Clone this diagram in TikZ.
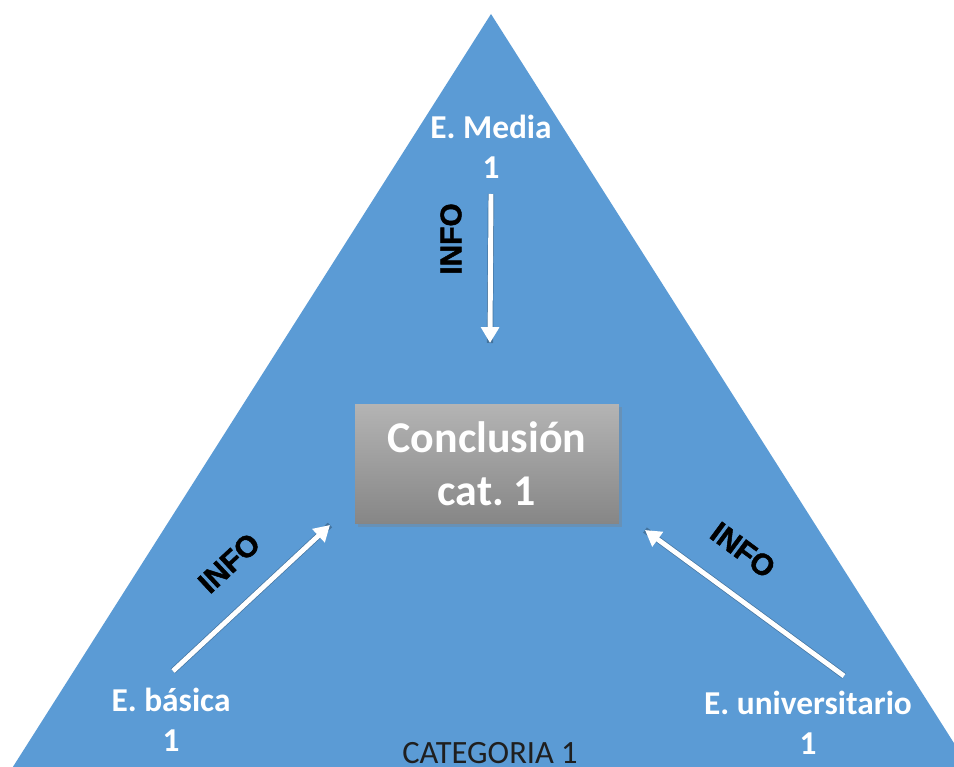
\documentclass[tikz,border=0pt]{standalone}
\usepackage{fontspec}
\setmainfont{Carlito}
\newfontfamily\infofont[FakeBold=1.6]{Liberation Sans}
\usetikzlibrary{arrows.meta,shadows,positioning}

\definecolor{triblue}{RGB}{91,155,213}
\definecolor{boxtop}{RGB}{180,180,180}
\definecolor{boxbot}{RGB}{134,134,134}

\begin{document}
\frenchspacing
\begin{tikzpicture}[x=0.02cm,y=-0.02cm,>={Triangle[length=9pt,width=10pt]}]

  \tikzstyle{lvl}=[text=white,font=\bfseries\fontsize{19}{23}\selectfont,align=center];
  \tikzstyle{info}=[font=\infofont\bfseries\fontsize{17}{20}\selectfont,inner sep=0pt];
  \tikzstyle{flow}=[->,draw=white,line width=2.8pt];
  \tikzstyle{flowshadow}=[draw=black,opacity=0.25,line width=3.6pt,shift={(2,3)}];
  \tikzstyle{conc}=[rectangle,minimum width=5.28cm,minimum height=2.4cm,
    top color=boxtop,bottom color=boxbot,text=white,align=center,
    font=\bfseries\fontsize{25}{30}\selectfont,
    drop shadow={opacity=0.35,shadow xshift=1.5pt,shadow yshift=-1.5pt}];

  \useasboundingbox (0,0) rectangle (954,767);
  \clip (0,0) rectangle (954,767);

  %% triangle
  \fill[triblue] (491,14) -- (-80.5,914) -- (1062.5,914) -- cycle;

  \node [conc] (conc) at (487,464) {Conclusión\\cat. 1};

  \node [lvl] (media) at (491,147) {E. Media\\1};
  \node [lvl] (basica) at (171,720) {E. básica\\1};
  \node [lvl] (univ) at (808,723) {E. universitario\\1};

  \node [text=black!88,font=\fontsize{18.5}{20}\selectfont] (cat) at (490,753) {CATEGORIA 1};

  %% arrow ends
  \coordinate (mediaT) at (491,194);
  \coordinate (mediaH) at (490,343);
  \coordinate (basicaT) at (173,671);
  \coordinate (basicaH) at (330,525);
  \coordinate (univT) at (844,676);
  \coordinate (univH) at (645,530);

  \draw[flowshadow] (mediaT) -- (mediaH);
  \draw[flowshadow] (basicaT) -- (basicaH);
  \draw[flowshadow] (univT) -- (univH);

  \draw[flow] (mediaT) -- (mediaH);
  \draw[flow] (basicaT) -- (basicaH);
  \draw[flow] (univT) -- (univH);

  \node [info,rotate=90] (infoM) at (451,239) {INFO};
  \node [info,rotate=43] (infoB) at (229,563) {INFO};
  \node [info,rotate=-36.5] (infoU) at (743,550) {INFO};

\end{tikzpicture}
\end{document}
